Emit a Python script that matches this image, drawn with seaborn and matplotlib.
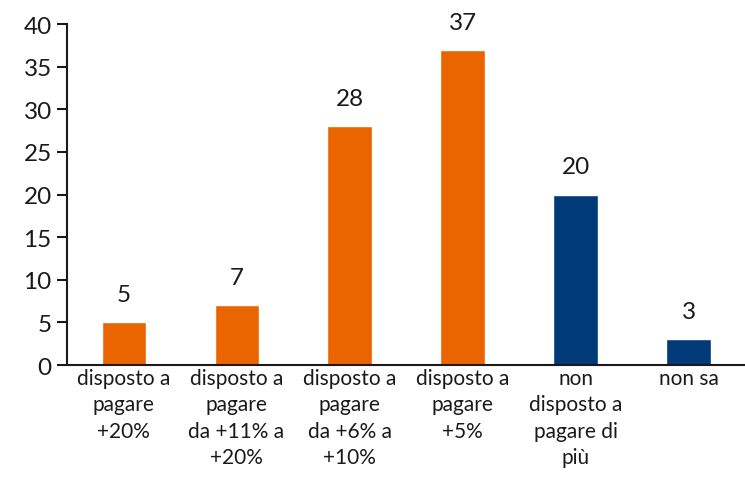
import pandas as pd
import matplotlib.pyplot as plt
import seaborn as sns

# Data
categories = ["disposto a\npagare\n+20%",
              "disposto a\npagare\nda +11% a\n+20%",
              "disposto a\npagare\nda +6% a\n+10%",
              "disposto a\npagare\n+5%",
              "non\ndisposto a\npagare di\npiù",
              "non sa"]
values = [5, 7, 28, 37, 20, 3]
bar_colors = ["#EA6400", "#EA6400", "#EA6400", "#EA6400", "#003A78", "#003A78"]

df = pd.DataFrame({"categoria": categories, "valore": values})

sns.set_style("white")
plt.rcParams['font.family'] = ['Lato', 'DejaVu Sans']

fig = plt.figure(figsize=(7.45, 4.81), dpi=100)
ax = fig.add_axes([0.09, 0.239, 0.91, 0.709])

sns.barplot(data=df, x="categoria", y="valore", hue="categoria",
            palette=bar_colors, width=0.39, legend=False, ax=ax, saturation=1)

# Value labels above bars
for i, v in enumerate(values):
    ax.text(i, v + 2.0, str(v), ha='center', va='bottom', fontsize=17.5, color='#1a1a1a')

ax.set_ylim(0, 40)
ax.set_yticks(range(0, 41, 5))
ax.set_xlim(-0.5, len(categories) - 0.5)
ax.set_xlabel("")
ax.set_ylabel("")

ax.tick_params(axis='y', labelsize=17.5, length=7, width=1.5, direction='out',
               left=True, colors='#1a1a1a', pad=4)
ax.tick_params(axis='x', labelsize=15, length=0, pad=2, colors='#1a1a1a')
for lbl in ax.get_xticklabels():
    lbl.set_linespacing(1.4)

for side in ['top', 'right']:
    ax.spines[side].set_visible(False)
for side in ['left', 'bottom']:
    ax.spines[side].set_linewidth(1.5)
    ax.spines[side].set_color('#1a1a1a')

fig.savefig("out.png", dpi=100)
